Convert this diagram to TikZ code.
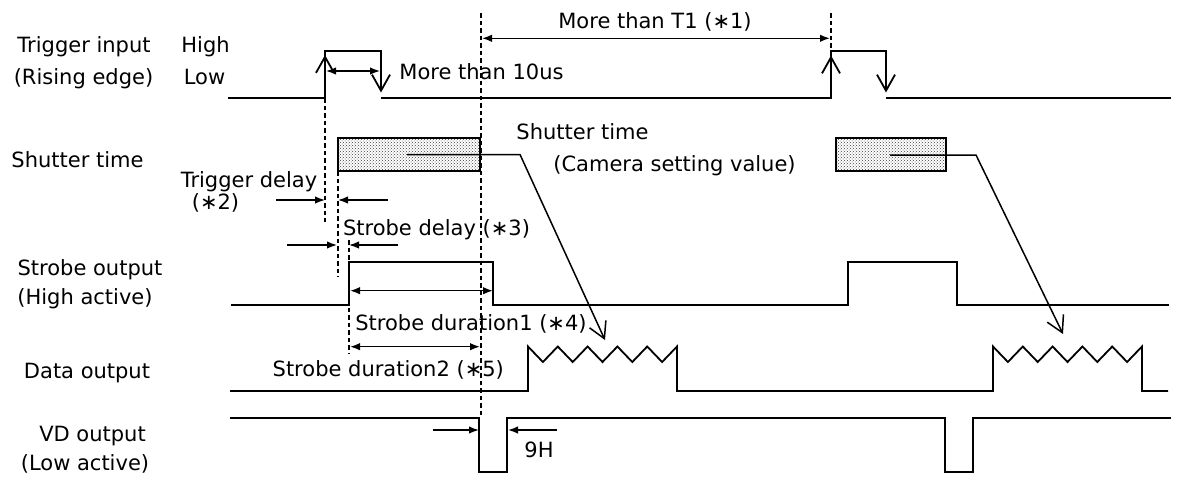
\documentclass[tikz,border=0pt]{standalone}
\usepackage{fontspec}
\setmainfont{DejaVu Sans}
\usetikzlibrary{arrows.meta,patterns}
\begin{document}
\begin{tikzpicture}[x=1pt,y=-1pt,
  sig/.style={line width=1.8pt, line join=miter},
  lead/.style={line width=1.5pt},
  guide/.style={line width=1.3pt, dash pattern=on 4.5pt off 3pt},
  dim/.style={line width=1.5pt, {Latex[length=10pt,width=7.5pt]}-{Latex[length=10pt,width=7.5pt]}},
  dimr/.style={line width=1.5pt, -{Latex[length=10pt,width=7.5pt]}},
  barb/.style={-{Straight Barb[length=16pt,width=18pt]}},
  lbl/.style={inner sep=0pt, anchor=base, font=\fontsize{21}{25}\selectfont},
  shbox/.style={draw, line width=1.6pt, pattern=crosshatch dots, pattern color=black!75}
]
\useasboundingbox (0,0) rectangle (1177,477);

% ---------- labels ----------
\node[lbl] (trigin) at (84,52.6) {Trigger input};
\node[lbl] (rising) at (83.5,84) {(Rising edge)};
\node[lbl] (high) at (205.5,52.6) {High};
\node[lbl] (low) at (204.5,84) {Low};
\node[lbl] (m10) at (481.5,79.5) {More than 10us};
\node[lbl] (mt1) at (655,28) {More than T1 (∗1)};
\node[lbl] (shutl) at (77.5,167) {Shutter time};
\node[lbl] (shutm) at (582.5,139) {Shutter time};
\node[lbl] (camset) at (674.5,171) {(Camera setting value)};
\node[lbl] (tdel) at (249,187.5) {Trigger delay};
\node[lbl] (n2) at (215.5,209) {(∗2)};
\node[lbl] (sdel) at (436.5,235) {Strobe delay (∗3)};
\node[lbl] (strobl) at (90,275) {Strobe output};
\node[lbl] (higha) at (85,304) {(High active)};
\node[lbl] (sd1) at (471,330) {Strobe duration1 (∗4)};
\node[lbl] (sd2) at (388.3,376.5) {Strobe duration2 (∗5)};
\node[lbl] (datal) at (87,378) {Data output};
\node[lbl] (vdl) at (92.5,441) {VD output};
\node[lbl] (lowa) at (85,470) {(Low active)};
\node[lbl] (nineh) at (539,457) {9H};

% ---------- guide lines ----------
\draw[guide] (325,98) -- (325,222);
\draw[guide] (338,171) -- (338,277);
\draw[guide] (349,240) -- (349,353);
\draw[guide] (481,13) -- (481,418);
\draw[guide] (831,13) -- (831,51);

% ---------- trigger input ----------
\draw[sig, barb] (228,98) -- (325,98) -- (325,51) -- (381,51) -- (381,92.5);
\draw[sig, barb] (325,98) -- (325,55);
\draw[sig, barb] (381,98) -- (831,98) -- (831,51) -- (886,51) -- (886,92.5);
\draw[sig, barb] (831,98) -- (831,55.5);
\draw[sig] (886,98) -- (1171,98);
\draw[dim] (326,71) -- (380,71);
\draw[dim] (482,38.3) -- (830,38.3);

% ---------- shutter ----------
\draw[shbox] (338,138) rectangle (480,171);
\draw[shbox] (836,138) rectangle (946,171);
\draw[lead, barb] (407,154.5) -- (520,154.5) -- (605,340);
\draw[lead, barb] (890,155) -- (976,155) -- (1063,334);

% ---------- delays ----------
\draw[dimr] (276,200) -- (325,200);
\draw[dimr] (388,200) -- (338,200);
\draw[dimr] (287,245) -- (337,245);
\draw[dimr] (398,245) -- (349,245);

% ---------- strobe ----------
\draw[sig] (231,305) -- (349,305) -- (349,262) -- (493,262) -- (493,305)
  -- (848,305) -- (848,262) -- (957,262) -- (957,305) -- (1169,305);
\draw[dim] (350,290.7) -- (493,290.7);
\draw[dim] (350,346.7) -- (480,346.7);

% ---------- data ----------
\def\zig#1{(#1,391) -- (#1,346.5)
  -- ({#1+14.9},362) -- ({#1+29.8},346.5)
  -- ({#1+44.7},362) -- ({#1+59.6},346.5)
  -- ({#1+74.5},362) -- ({#1+89.4},346.5)
  -- ({#1+104.3},362) -- ({#1+119.2},346.5)
  -- ({#1+134.1},362) -- ({#1+149},346.5)
  -- ({#1+149},391)}
\draw[sig] (230,391) -- \zig{528} -- \zig{993} -- (1168,391);

% ---------- VD ----------
\draw[sig] (230,418) -- (479,418) -- (479,472) -- (507,472) -- (507,418)
  -- (945,418) -- (945,472) -- (973,472) -- (973,418) -- (1171,418);
\draw[dimr] (433,430) -- (479,430);
\draw[dimr] (557,430) -- (508,430);
\end{tikzpicture}
\end{document}
